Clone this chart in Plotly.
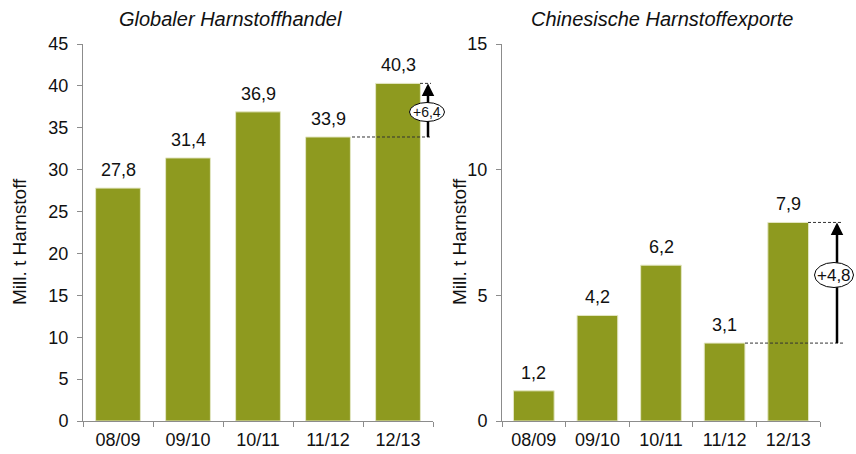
import plotly.graph_objects as go

categories = ["08/09", "09/10", "10/11", "11/12", "12/13"]
global_trade = [27.8, 31.4, 36.9, 33.9, 40.3]
china_exports = [1.2, 4.2, 6.2, 3.1, 7.9]
left_ticks = [0, 5, 10, 15, 20, 25, 30, 35, 40, 45]
right_ticks = [0, 5, 10, 15]
title_left = "Globaler Harnstoffhandel"
title_right = "Chinesische Harnstoffexporte"
ylabel = "Mill. t Harnstoff"

W, H = 856, 454
BAR = "#8E9A1F"
FONT = "Liberation Sans, Arial, sans-serif"
TXT = "#111111"
AX = "#8c8c8c"
PLOT_H = 421 - 44

def px_x(p):
    return p / W

def px_y(p):
    return 1 - p / H

def fmt(v):
    return f"{v:.1f}".replace(".", ",")

xdom1 = [px_x(83), px_x(433)]
xdom2 = [px_x(502), px_x(820)]
ydom = [px_y(421), px_y(44)]

fig = go.Figure()
fig.add_trace(go.Bar(x=categories, y=global_trade, xaxis="x", yaxis="y",
                     marker=dict(color=BAR, line=dict(color="#e4e7c4", width=1)),
                     showlegend=False, hoverinfo="skip"))
fig.add_trace(go.Bar(x=categories, y=china_exports, xaxis="x2", yaxis="y2",
                     marker=dict(color=BAR, line=dict(color="#e4e7c4", width=1)),
                     showlegend=False, hoverinfo="skip"))

axis_common = dict(showline=True, linecolor=AX, linewidth=1, ticks="outside",
                   tickcolor=AX, ticklen=5, showgrid=False, zeroline=False,
                   automargin=False,
                   tickfont=dict(size=18, color=TXT, family=FONT))

fig.update_layout(
    width=W, height=H, margin=dict(l=0, r=0, t=0, b=0, autoexpand=False),
    paper_bgcolor="white", plot_bgcolor="white", bargap=0.36,
    font=dict(family=FONT, color=TXT),
    xaxis=dict(domain=xdom1, anchor="y", type="category", tickson="boundaries",
               range=[-0.5, 4.5], ticklabelstandoff=2, **axis_common),
    yaxis=dict(domain=ydom, anchor="x", range=[0, 45], tickvals=left_ticks,
               ticklabelstandoff=5, **axis_common),
    xaxis2=dict(domain=xdom2, anchor="y2", type="category", tickson="boundaries",
                range=[-0.5, 4.5], ticklabelstandoff=2, **axis_common),
    yaxis2=dict(domain=ydom, anchor="x2", range=[0, 15], tickvals=right_ticks,
                ticklabelstandoff=5, **axis_common),
)

annotations = []
shapes = []
C = dict(xanchor="center", yanchor="middle", xref="paper", yref="paper", showarrow=False)
# titles
annotations.append(dict(text=f"<i>{title_left}</i>", x=px_x(230), y=px_y(19),
                        font=dict(size=20, color=TXT, family=FONT), **C))
annotations.append(dict(text=f"<i>{title_right}</i>", x=px_x(662), y=px_y(19),
                        font=dict(size=20, color=TXT, family=FONT), **C))
# y labels
for xp in (19, 459):
    annotations.append(dict(text=ylabel, x=px_x(xp), y=px_y(242), textangle=-90,
                            font=dict(size=19, color=TXT, family=FONT), **C))

# value labels
for vals, xr, yr in ((global_trade, "x", "y"), (china_exports, "x2", "y2")):
    for c, v in zip(categories, vals):
        annotations.append(dict(text=fmt(v), x=c, y=v, xref=xr, yref=yr, showarrow=False,
                                xanchor="center", yanchor="bottom", yshift=6,
                                font=dict(size=18, color=TXT, family=FONT)))

DASH = dict(color="#333333", width=1, dash="3px,2px")

def change_marker(vals, yref, yrange, x_lo, x_hi_top, x_end, x_arrow, ell_c, ell_w, ell_h, fsize):
    lo, hi = vals[3], vals[4]
    unit = yrange / PLOT_H
    shapes.append(dict(type="line", xref="paper", yref=yref, x0=px_x(x_lo), x1=px_x(x_end),
                       y0=lo, y1=lo, line=DASH))
    shapes.append(dict(type="line", xref="paper", yref=yref, x0=px_x(x_hi_top), x1=px_x(x_end),
                       y0=hi, y1=hi, line=DASH))
    # shaft
    shapes.append(dict(type="line", xref="paper", yref=yref, x0=px_x(x_arrow), x1=px_x(x_arrow),
                       y0=lo, y1=hi - 6 * unit, line=dict(color="black", width=2.5)))
    # head
    annotations.append(dict(x=px_x(x_arrow), y=hi, xref="paper", yref=yref, text="",
                            showarrow=True, ax=0, ay=12,
                            arrowhead=2, arrowsize=1, arrowwidth=2.5, arrowcolor="black"))
    cx, cy = ell_c
    shapes.append(dict(type="circle", xref="paper", yref="paper",
                       x0=px_x(cx - ell_w / 2), x1=px_x(cx + ell_w / 2),
                       y0=px_y(cy + ell_h / 2), y1=px_y(cy - ell_h / 2),
                       fillcolor="white", line=dict(color="black", width=1), layer="above"))
    annotations.append(dict(text="+" + fmt(hi - lo), x=px_x(cx), y=px_y(cy),
                            font=dict(size=fsize, color=TXT, family=FONT), **C))

change_marker(global_trade, "y", 45, 352, 420, 431, 428, (427, 112), 35, 19, 14)
change_marker(china_exports, "y2", 15, 745, 808, 843, 837, (834, 275), 39, 25, 17)

fig.update_layout(annotations=annotations, shapes=shapes)
fig.write_html("out.html", config={"displayModeBar": False},
               post_script="document.body.style.margin='0px';document.body.style.overflow='hidden';")
